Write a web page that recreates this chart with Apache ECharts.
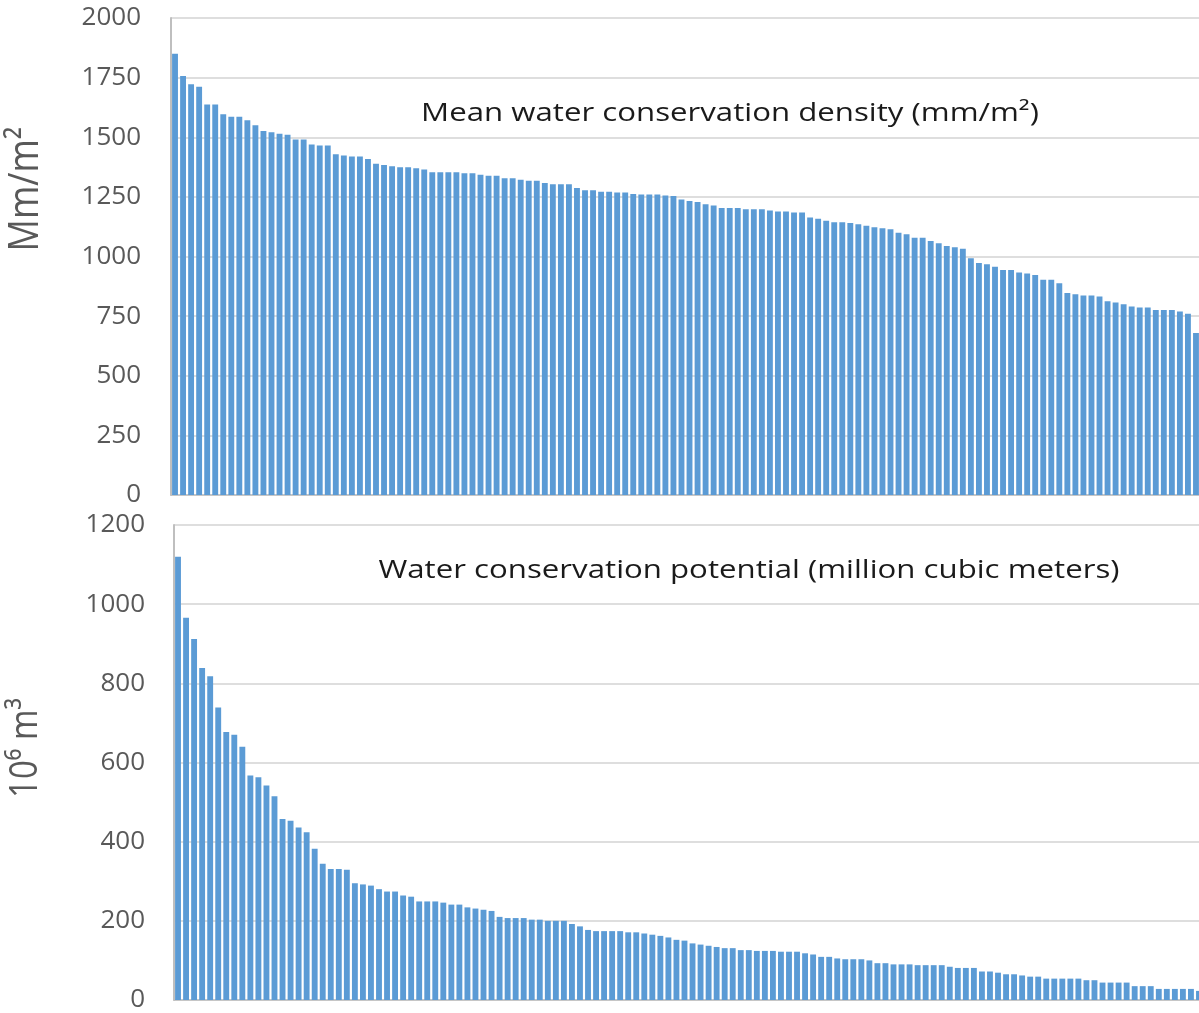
<!DOCTYPE html>
<html><head><meta charset="utf-8">
<script src="https://cdn.jsdelivr.net/npm/echarts@6/dist/echarts.min.js"></script>
<style>html,body{margin:0;padding:0;background:#fff;overflow:hidden}#c{width:1210px;height:1013px}</style>
</head><body><div id="c"></div>
<script>
// Mean water conservation density (mm/m2), sorted descending
const densityValues = [
 1850,1757,1722,1712,1637,1637,1596,1586,1586,1571,
 1550,1526,1521,1515,1511,1491,1491,1470,1465,1465,
 1429,1424,1419,1419,1409,1389,1384,1378,1374,1374,
 1370,1365,1353,1353,1353,1353,1349,1349,1343,1339,
 1339,1328,1328,1322,1318,1318,1308,1303,1303,1303,
 1287,1278,1278,1272,1272,1268,1268,1262,1260,1260,
 1260,1256,1254,1239,1233,1228,1219,1214,1203,1203,
 1203,1198,1198,1198,1193,1189,1189,1185,1185,1164,
 1158,1150,1144,1144,1140,1135,1129,1123,1118,1114,
 1100,1093,1079,1079,1065,1056,1044,1039,1033,993,
 973,968,957,943,943,933,929,922,903,903,
 888,847,842,836,836,832,812,807,800,790,
 786,786,776,776,776,769,760,679
];
// Water conservation potential (million cubic meters), sorted descending
const potentialValues = [
 1120,966,912,839,818,739,677,670,640,567,
 563,542,515,457,453,436,424,382,344,331,
 331,329,295,292,289,280,274,274,264,261,
 249,249,249,246,241,241,234,231,228,225,
 210,207,207,207,203,203,200,200,200,192,
 186,177,174,174,174,174,171,171,168,165,
 162,158,152,150,143,140,137,134,131,131,
 126,126,124,124,124,122,122,122,118,115,
 109,109,105,103,103,103,100,93,93,90,
 90,90,88,88,88,88,84,81,81,81,
 72,72,69,65,65,62,59,59,54,54,
 54,54,54,50,50,44,44,44,44,35,
 35,35,28,28,28,28,28,23
];
const categories = densityValues.map((_, i) => 'Unit ' + (i + 1));
const panelTitles = ['Mean water conservation density (mm/m\u00B2)', 'Water conservation potential (million cubic meters)'];
const axisNames = ['Mm/m\u00B2', '10\u2076 m\u00B3'];
const densityAxis = {min: 0, max: 2000, interval: 250};
const potentialAxis = {min: 0, max: 1200, interval: 200};

const chart = echarts.init(document.getElementById('c'), null, {renderer: 'canvas'});
const barColor = '#5b9bd5';
function yAx(idx, ax, margin) {
  return {
    gridIndex: idx, type: 'value', min: ax.min, max: ax.max, interval: ax.interval,
    axisLine: {show: true, lineStyle: {color: '#bfbfbf', width: 2}},
    axisTick: {show: false},
    splitLine: {show: true, lineStyle: {color: '#d3d3d3', width: 1.5}},
    axisLabel: {color: '#595959', fontSize: 26, fontFamily: 'Open Sans', margin: margin, formatter: v => String(v)}
  };
}
function xAx(idx) {
  return {
    gridIndex: idx, type: 'category', data: categories, boundaryGap: true,
    axisTick: {show: false}, axisLabel: {show: false},
    axisLine: {show: true, lineStyle: {color: '#bfbfbf', width: 1.5}}
  };
}
chart.setOption({
  animation: false,
  backgroundColor: '#ffffff',
  grid: [
    {left: 171, top: 18, width: 1029, height: 477},
    {left: 174, top: 525, width: 1029, height: 477}
  ],
  xAxis: [xAx(0), xAx(1)],
  yAxis: [yAx(0, densityAxis, 30), yAx(1, potentialAxis, 29)],
  series: [
    {type: 'bar', xAxisIndex: 0, yAxisIndex: 0, data: densityValues, barCategoryGap: '27%', itemStyle: {color: barColor}},
    {type: 'bar', xAxisIndex: 1, yAxisIndex: 1, data: potentialValues, barCategoryGap: '27%', itemStyle: {color: barColor}}
  ],
  graphic: [
    {type: 'text', x: 730, y: 114, scaleX: 1.2, style: {text: panelTitles[0], font: '26px "Open Sans"', fill: '#1a1a1a', align: 'center', verticalAlign: 'middle'}},
    {type: 'text', x: 749, y: 571, scaleX: 1.2, style: {text: panelTitles[1], font: '26px "Open Sans"', fill: '#1a1a1a', align: 'center', verticalAlign: 'middle'}},
    {type: 'text', x: 26, y: 189, rotation: Math.PI / 2, scaleY: 1.15, style: {text: axisNames[0], font: '36px "Open Sans"', fill: '#595959', align: 'center', verticalAlign: 'middle'}},
    {type: 'text', x: 26, y: 748, rotation: Math.PI / 2, scaleY: 1.15, style: {text: axisNames[1], font: '33px "Open Sans"', fill: '#595959', align: 'center', verticalAlign: 'middle'}}
  ]
});
</script></body></html>
